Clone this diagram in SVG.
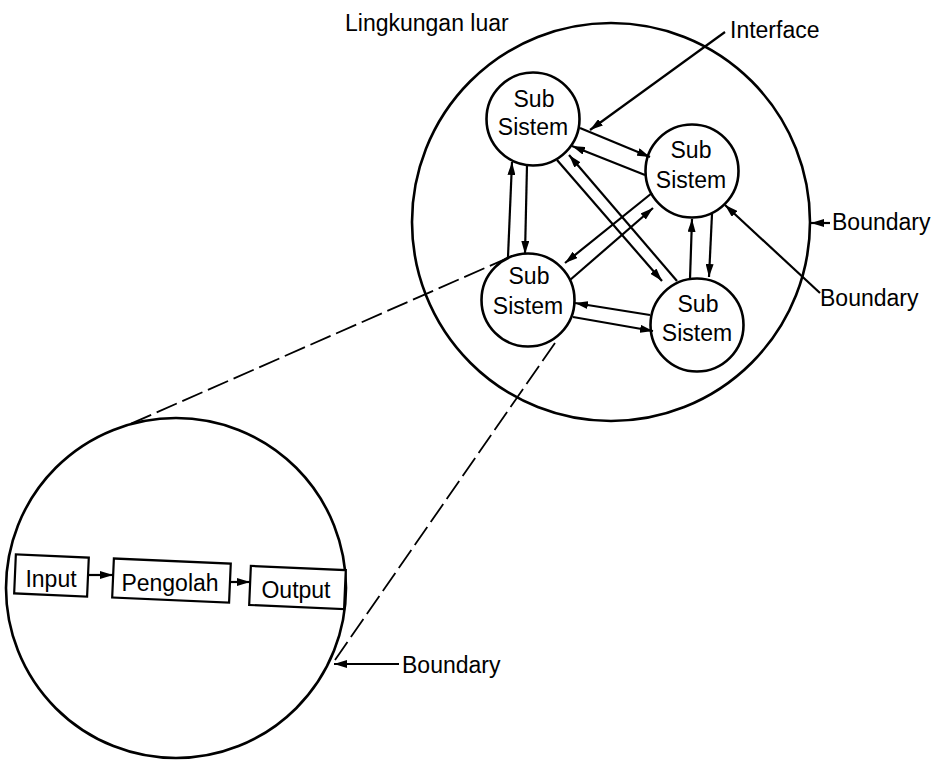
<svg xmlns="http://www.w3.org/2000/svg" width="944" height="761" viewBox="0 0 944 761">
<style>
.c{fill:none;stroke:#000;stroke-width:2.6}
.b{fill:#fff;stroke:#000;stroke-width:2.2}
.l{fill:none;stroke:#000;stroke-width:2.2}
.d{fill:none;stroke:#000;stroke-width:1.8;stroke-dasharray:22 6}
text{font-family:"Liberation Sans",Arial,Helvetica,sans-serif;font-size:23px;fill:#000}
.m{text-anchor:middle}
</style>
<defs>
<marker id="a" viewBox="0 0 13 8" refX="13" refY="4" markerWidth="13" markerHeight="8" orient="auto" markerUnits="userSpaceOnUse">
<path d="M0,0 L13,4 L0,8 Z" fill="#000"/>
</marker>
</defs>
<rect width="944" height="761" fill="#fff"/>
<g id="environment">
<circle class="c" cx="611" cy="222" r="199"/>
<text x="345" y="31">Lingkungan luar</text>
</g>
<g id="subsystem1">
<circle class="c" cx="533" cy="119" r="46.5"/>
<text class="m" x="534" y="107">Sub</text>
<text class="m" x="533" y="135">Sistem</text>
</g>
<g id="subsystem2">
<circle class="c" cx="692" cy="171" r="46.5"/>
<text class="m" x="691" y="158">Sub</text>
<text class="m" x="691" y="188">Sistem</text>
</g>
<g id="subsystem3">
<circle class="c" cx="528" cy="300" r="46.5"/>
<text class="m" x="529" y="284">Sub</text>
<text class="m" x="528" y="314">Sistem</text>
</g>
<g id="subsystem4">
<circle class="c" cx="697" cy="325" r="46.5"/>
<text class="m" x="698" y="312">Sub</text>
<text class="m" x="697" y="341">Sistem</text>
</g>
<g id="detail">
<circle class="c" cx="176" cy="588" r="170"/>
</g>
<g id="input">
<rect class="b" x="15" y="556" width="73" height="39" transform="rotate(2.5 51 575)"/>
<text class="m" x="51" y="587">Input</text>
</g>
<g id="pengolah">
<rect class="b" x="113" y="561" width="117" height="39" transform="rotate(2.5 171 580)"/>
<text class="m" x="170" y="591">Pengolah</text>
</g>
<g id="output">
<rect class="b" x="250" y="568" width="95" height="39" transform="rotate(2.5 297 587)"/>
<text class="m" x="296" y="598">Output</text>
</g>
<g id="labels">
<text x="730" y="38">Interface</text>
<text x="832" y="230">Boundary</text>
<text x="820" y="306">Boundary</text>
<text x="402" y="673">Boundary</text>
</g>
<g id="connectors">
<line class="l" x1="580" y1="128" x2="650" y2="157" marker-end="url(#a)"/>
<line class="l" x1="645" y1="175" x2="572" y2="146" marker-end="url(#a)"/>
<line class="l" x1="508" y1="257" x2="512" y2="162" marker-end="url(#a)"/>
<line class="l" x1="527" y1="165" x2="525" y2="254" marker-end="url(#a)"/>
<line class="l" x1="557" y1="160" x2="662" y2="281" marker-end="url(#a)"/>
<line class="l" x1="677" y1="281" x2="569" y2="155" marker-end="url(#a)"/>
<line class="l" x1="652" y1="193" x2="565" y2="263" marker-end="url(#a)"/>
<line class="l" x1="570" y1="280" x2="653" y2="208" marker-end="url(#a)"/>
<line class="l" x1="690" y1="279" x2="692" y2="219" marker-end="url(#a)"/>
<line class="l" x1="712" y1="214" x2="709" y2="277" marker-end="url(#a)"/>
<line class="l" x1="650" y1="315" x2="575" y2="303" marker-end="url(#a)"/>
<line class="l" x1="573" y1="317" x2="653" y2="331" marker-end="url(#a)"/>
<line class="l" x1="88" y1="575" x2="113" y2="575" marker-end="url(#a)"/>
<line class="l" x1="230" y1="582" x2="250" y2="582" marker-end="url(#a)"/>
<line class="l" x1="725" y1="32" x2="590" y2="130" stroke-width="1.6" marker-end="url(#a)"/>
<line class="l" x1="820" y1="293" x2="725" y2="205" stroke-width="1.6" marker-end="url(#a)"/>
<line class="l" x1="830" y1="223" x2="811" y2="223" marker-end="url(#a)"/>
<line class="l" x1="399" y1="664" x2="334" y2="664" marker-end="url(#a)"/>
<line class="d" x1="510" y1="257" x2="128" y2="425"/>
<line class="d" x1="555" y1="343" x2="335" y2="660"/>
</g>
</svg>
